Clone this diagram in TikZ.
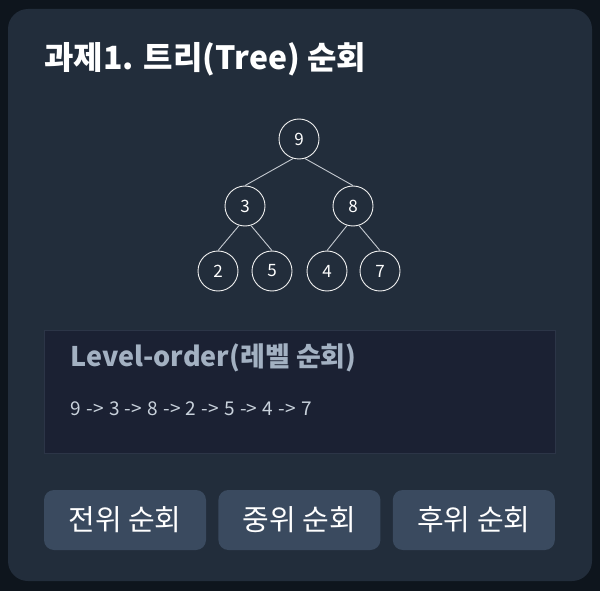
\documentclass[tikz,border=0pt]{standalone}
\usepackage{fontspec}
\setmainfont{Noto Sans CJK KR}
\usetikzlibrary{positioning}

\definecolor{pagebg}{HTML}{0E151D}
\definecolor{cardbg}{HTML}{222D3B}
\definecolor{boxbg}{HTML}{1B2133}
\definecolor{boxline}{HTML}{2C3547}
\definecolor{btnbg}{HTML}{3A4A5F}
\definecolor{headgray}{HTML}{A3B1C2}
\definecolor{seqgray}{HTML}{C9D2DC}
\definecolor{edgegray}{HTML}{C4C9D0}

\begin{document}
\begin{tikzpicture}[
  x=1pt, y=-1pt,
  treenode/.style={circle, draw=white!88!gray, line width=0.9pt, minimum size=40pt, inner sep=0pt, text=white, font=\fontsize{17}{20}\selectfont},
  edge/.style={draw=edgegray, line width=0.9pt},
  btn/.style={rectangle, rounded corners=10pt, fill=btnbg, minimum width=162pt, minimum height=60pt, text=white, font=\fontsize{29}{32}\selectfont}
]

  % Page and card
  \fill[pagebg] (0,0) rectangle (600,591);
  \fill[cardbg, rounded corners=20pt] (8,9) rectangle (592,581);

  % Title
  \node[anchor=west, text=white, font=\fontsize{32}{36}\selectfont\bfseries] (title) at (41,59) {과제1. 트리(Tree) 순회};

  % Tree nodes
  \node[treenode] (n9) at (299,139) {9};
  \node[treenode] (n3) at (245,206) {3};
  \node[treenode] (n8) at (353,206) {8};
  \node[treenode] (n2) at (218,271) {2};
  \node[treenode] (n5) at (272,271) {5};
  \node[treenode] (n4) at (327,271) {4};
  \node[treenode] (n7) at (380,271) {7};

  % Tree edges
  \draw[edge] (n9.253) -- (n3.north);
  \draw[edge] (n9.287) -- (n8.north);
  \draw[edge] (n3.253) -- (n2.north);
  \draw[edge] (n3.287) -- (n5.north);
  \draw[edge] (n8.253) -- (n4.north);
  \draw[edge] (n8.287) -- (n7.north);

  % Result box
  \node[rectangle, fill=boxbg, draw=boxline, line width=0.8pt, minimum width=511pt, minimum height=123pt, anchor=north west, inner sep=0pt] (result) at (44,330) {};
  \node[anchor=west, text=headgray, font=\fontsize{27}{30}\selectfont\bfseries] (resulthead) at (67,358) {Level-order(레벨 순회)};
  \node[anchor=west, text=seqgray, font=\fontsize{19}{22}\selectfont] (resultseq) at (67,409) {\spaceskip 5.4pt\relax 9 -> 3 -> 8 -> 2 -> 5 -> 4 -> 7};

  % Buttons
  \node[btn] (pre) at (125,520) {전위 순회};
  \node[btn, right=12pt of pre] (in) {중위 순회};
  \node[btn, right=12pt of in] (post) {후위 순회};

\end{tikzpicture}
\end{document}
